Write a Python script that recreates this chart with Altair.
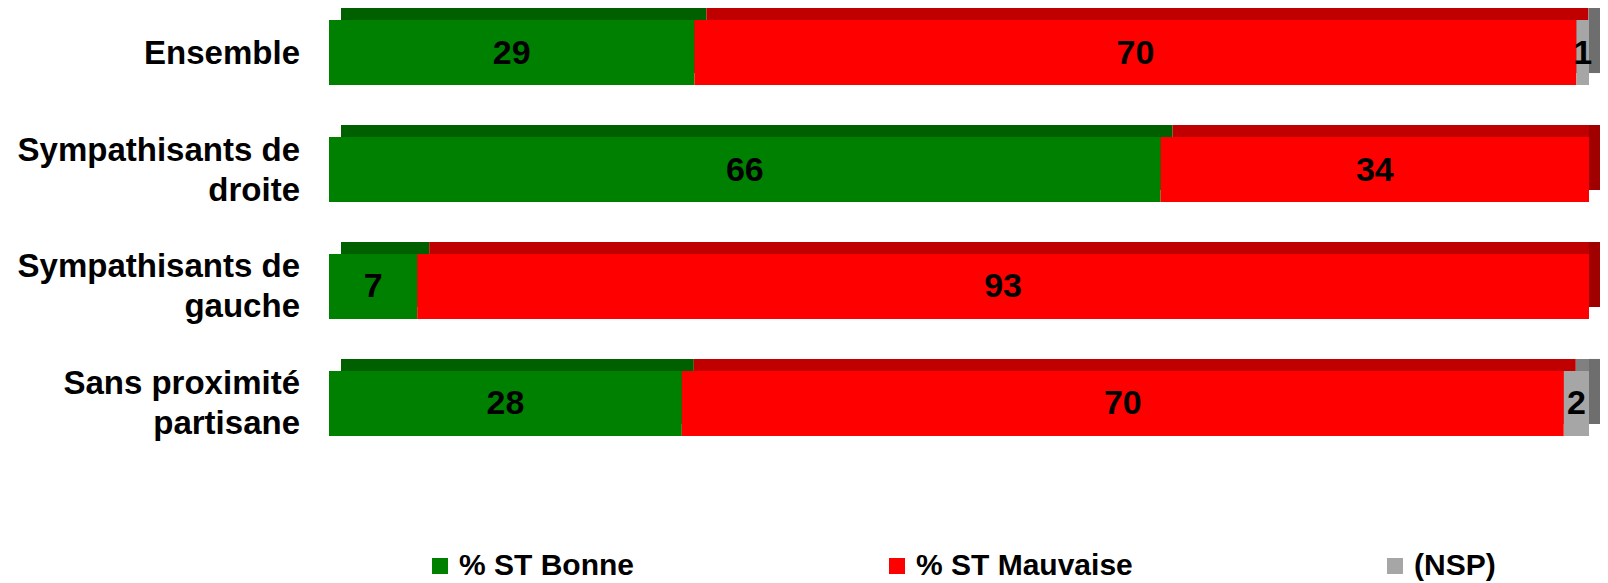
import altair as alt
import pandas as pd

categories = ["Ensemble", "Sympathisants de droite", "Sympathisants de gauche", "Sans proximité partisane"]
series = ["% ST Bonne", "% ST Mauvaise", "(NSP)"]
bonne = [29, 66, 7, 28]
mauvaise = [70, 34, 93, 70]
nsp = [1, 0, 0, 2]

front_colors = ["#008000", "#FF0000", "#A6A6A6"]
top_colors = ["#006000", "#C00000", "#808080"]
side_colors = ["#005000", "#A00000", "#6E6E6E"]

rows = []
for i, c in enumerate(categories):
    for j, (s, vals) in enumerate(zip(series, [bonne, mauvaise, nsp])):
        rows.append({"cat": c, "series": s, "order": j, "value": vals[i]})
df = pd.DataFrame(rows)
cat_df = pd.DataFrame({"cat": categories})

FONT = "Liberation Sans"
D = 12  # 3D depth in px

base = alt.Chart(df).transform_stack(
    stack="value", as_=["x0", "x1"], groupby=["cat"], sort=[alt.SortField("order")]
).transform_calculate(mid="(datum.x0 + datum.x1) / 2")

xs = alt.Scale(domain=[0, 100], nice=False, zero=True)
ys = alt.Scale(domain=categories, paddingInner=0.444, paddingOuter=0)

yenc = alt.Y("cat:N", scale=ys, sort=categories, title=None, axis=None)

top = base.transform_filter("datum.value > 0").mark_bar(xOffset=D, x2Offset=D, yOffset=-D).encode(
    x=alt.X("x0:Q", scale=xs, axis=None),
    x2="x1:Q",
    y=yenc,
    color=alt.Color("series:N", scale=alt.Scale(domain=series, range=top_colors), legend=None),
)

side = base.transform_filter("datum.value > 0 && datum.x1 >= 100").mark_bar(x2Offset=D, yOffset=-D).encode(
    x=alt.X("x1:Q", scale=xs, axis=None),
    x2="x1:Q",
    y=yenc,
    color=alt.Color("series:N", scale=alt.Scale(domain=series, range=side_colors), legend=None),
)

front = base.transform_filter("datum.value > 0").mark_bar().encode(
    x=alt.X("x0:Q", scale=xs, axis=None),
    x2="x1:Q",
    y=yenc,
    color=alt.Color(
        "series:N", scale=alt.Scale(domain=series, range=front_colors),
        legend=alt.Legend(
            title=None, orient="none", legendX=96, legendY=531, direction="horizontal",
            columnPadding=247, symbolType="square", symbolSize=256, symbolStrokeWidth=0,
            labelFont=FONT, labelFontWeight="bold", labelFontSize=30, labelColor="black",
            labelOffset=4, labelLimit=500, padding=0,
        ),
    ),
)

labels = base.transform_filter("datum.value > 0").mark_text(
    font=FONT, fontWeight="bold", fontSize=34, color="black", baseline="middle", dy=1
).encode(
    x=alt.X("mid:Q", scale=xs, axis=None),
    y=yenc,
    text="value:Q",
)

# category labels (wrapped at the last space for long names)
cat_base = alt.Chart(cat_df).transform_calculate(
    long="length(datum.cat) > 10",
    sp="lastindexof(datum.cat, ' ')",
).transform_calculate(
    line1="datum.long ? substring(datum.cat, 0, datum.sp) : datum.cat",
    line2="datum.long ? substring(datum.cat, datum.sp + 1) : ''",
)
txt = dict(font=FONT, fontWeight="bold", fontSize=33, color="black", align="right", baseline="middle")
cat_single = cat_base.transform_filter("!datum.long").mark_text(dy=1, **txt).encode(
    x=alt.value(-29), y=yenc, text="line1:N")
cat_l1 = cat_base.transform_filter("datum.long").mark_text(dy=-19, **txt).encode(
    x=alt.value(-29), y=yenc, text="line1:N")
cat_l2 = cat_base.transform_filter("datum.long").mark_text(dy=21, **txt).encode(
    x=alt.value(-29), y=yenc, text="line2:N")

chart = alt.layer(top, side, front, labels, cat_single, cat_l1, cat_l2).resolve_scale(
    color="independent"
).properties(
    width=1260, height=416,
    autosize=alt.AutoSizeParams(type="none"),
    padding={"left": 321, "top": 12, "right": 11, "bottom": 147},
).configure(background="white").configure_view(stroke=None)

chart.save("out.html", embed_options={"renderer": "svg", "actions": False})
